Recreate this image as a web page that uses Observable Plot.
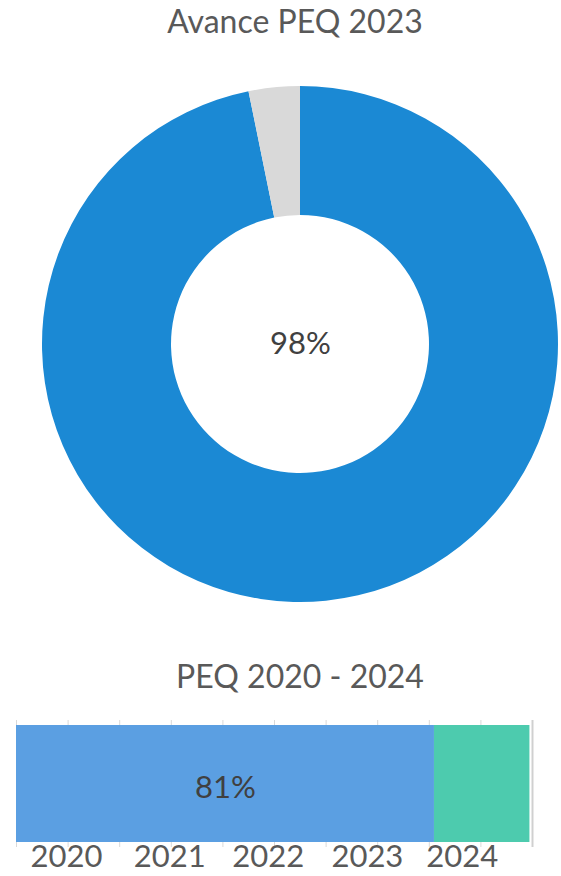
<!DOCTYPE html>
<html>
<head>
<meta charset="utf-8">
<script src="https://cdn.jsdelivr.net/npm/d3@7"></script>
<script src="https://cdn.jsdelivr.net/npm/@observablehq/plot@0.6"></script>
<style>
  html, body { margin: 0; padding: 0; background: #fff; }
  body { width: 561px; height: 876px; overflow: hidden; font-family: Lato, "Open Sans", sans-serif; }
  .title { height: 48px; line-height: 42px; font-size: 32px; color: #595959; text-align: center; padding-left: 29px; box-sizing: border-box; white-space: nowrap; }
  .subtitle { height: 64px; line-height: 55px; font-size: 32px; color: #595959; text-align: center; padding-left: 39px; box-sizing: border-box; white-space: nowrap; }
  svg { display: block; }
</style>
</head>
<body>
<div class="title" id="t1"></div>
<div id="donut"></div>
<div class="subtitle" id="t2"></div>
<div id="bar"></div>
<script>
// ---- Data ----
const donutTitle = "Avance PEQ 2023";
const donutCategories = ["Avance", "Pendiente"];
const donutValues = [0.968, 0.032];
const donutColors = ["#1B89D4", "#D9D9D9"];
const donutCenterLabel = "98%";

const barTitle = "PEQ 2020 - 2024";
const barCategories = ["Avance", "Restante"];
const barValues = [0.81, 0.185];
const barLabels = ["81%", ""];
const barColors = ["#5B9FE2", "#4DCBAE"];
const gridTicks = [0, 0.1, 0.2, 0.3, 0.4, 0.5, 0.6, 0.7, 0.8, 0.9, 1.0];
const yearLabels = ["2020", "2021", "2022", "2023", "2024"];
const yearPositions = [0.097, 0.297, 0.488, 0.68, 0.864];

document.getElementById("t1").textContent = donutTitle;
document.getElementById("t2").textContent = barTitle;

// ---- Donut ----
const donutData = donutCategories.map((c, i) => ({category: c, value: donutValues[i]}));
const donutColor = d3.scaleOrdinal(donutCategories, donutColors);

function donutMark(index, scales, values, dim) {
  const fw = dim.width - dim.marginLeft - dim.marginRight;
  const fh = dim.height - dim.marginTop - dim.marginBottom;
  const cx = dim.marginLeft + fw / 2;
  const cy = dim.marginTop + fh / 2;
  const outer = Math.min(fw, fh) / 2;
  const inner = outer * 0.5;
  const arcs = d3.pie().sort(null).value(d => d.value)(donutData);
  const arc = d3.arc().innerRadius(inner).outerRadius(outer);
  const g = d3.create("svg:g").attr("transform", `translate(${cx},${cy})`);
  g.selectAll("path").data(arcs).join("path")
    .attr("d", arc)
    .attr("fill", d => donutColor(d.data.category))
    .attr("stroke", "none");
  return g.node();
}

const donut = Plot.plot({
  width: 561,
  height: 600,
  marginLeft: 42,
  marginRight: 3,
  marginTop: 38,
  marginBottom: 46,
  style: {fontFamily: "Lato, 'Open Sans', sans-serif", background: "transparent"},
  marks: [
    donutMark,
    Plot.text([donutCenterLabel], {frameAnchor: "middle", text: d => d, fontSize: 31, fill: "#404040"})
  ]
});
document.getElementById("donut").append(donut);

// ---- Stacked bar ----
const barData = barCategories.map((c, i) => ({row: "PEQ", segment: c, value: barValues[i], label: barLabels[i]}));

const bar = Plot.plot({
  width: 561,
  height: 164,
  marginLeft: 16,
  marginRight: 29,
  marginTop: 8,
  marginBottom: 29,
  style: {fontFamily: "Lato, 'Open Sans', sans-serif", background: "transparent"},
  x: {domain: [0, 1], axis: null},
  y: {domain: ["PEQ"], axis: null, padding: 0},
  color: {domain: barCategories, range: barColors},
  marks: [
    Plot.gridX(gridTicks, {stroke: "#D9D9D9", strokeOpacity: 1, strokeWidth: 1}),
    Plot.ruleX([gridTicks[gridTicks.length - 1]], {stroke: "#D0D0D0", strokeWidth: 2}),
    Plot.barX(barData, Plot.stackX({x: "value", y: "row", fill: "segment", insetTop: 5, insetBottom: 5})),
    Plot.text(barData, Plot.stackX({x: "value", y: "row", text: "label", fontSize: 31, fill: "#404040", dy: 4})),
    Plot.text(yearLabels, {x: (d, i) => yearPositions[i], frameAnchor: "bottom", lineAnchor: "middle", text: d => d, dy: 10, fontSize: 31, fill: "#595959"})
  ]
});
document.getElementById("bar").append(bar);
</script>
</body>
</html>
